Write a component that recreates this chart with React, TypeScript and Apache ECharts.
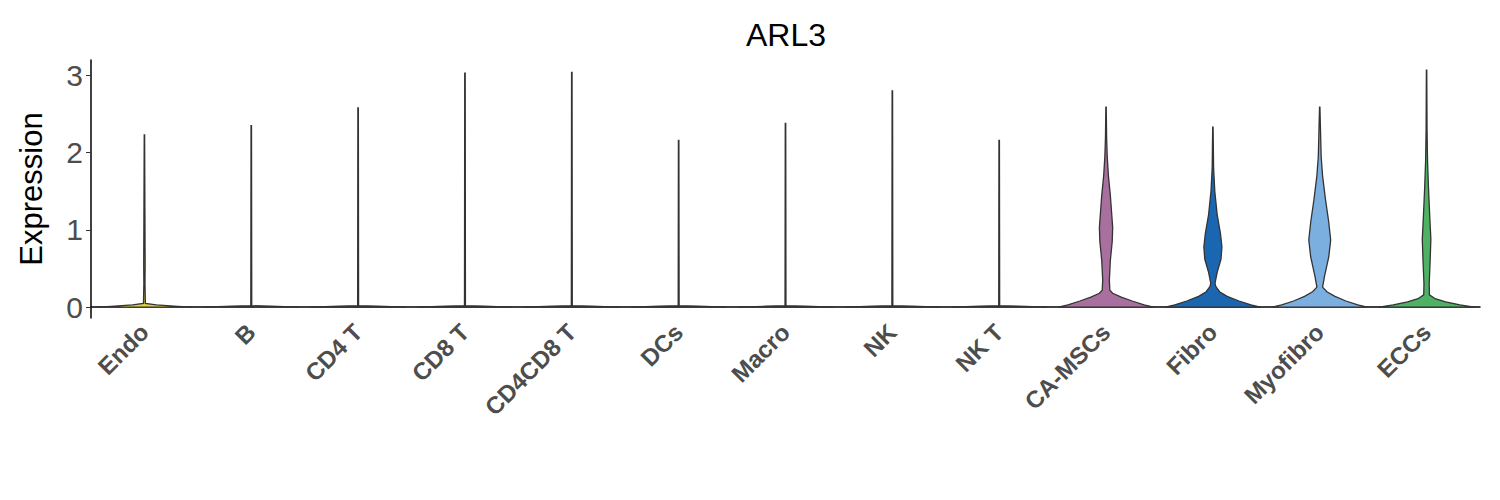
import React, { useEffect, useRef } from "react";
import * as echarts from "echarts";

const categories = ["Endo", "B", "CD4 T", "CD8 T", "CD4CD8 T", "DCs", "Macro", "NK", "NK T", "CA-MSCs", "Fibro", "Myofibro", "ECCs"];
const colors = ["#e3d23c", "#e8a05a", "#d9686a", "#c4577e", "#9a6fb0", "#6f8fca", "#5aa6b8", "#6dbb8a", "#a5c25a", "#a96f9f", "#1b66b1", "#7bafe0", "#4db263"];
const yTicks = [0, 1, 2, 3];

// violin profiles: [value, relative half width]
const thin = (top: number): number[][] => [[0, 1], [0.012, 0.4], [0.02, 0.01], [top, 0.005]];
const profiles: number[][][] = [
  [[0, 1], [0.01, 0.7], [0.03, 0.25], [0.05, 0.02], [0.3, 0.012], [0.55, 0.015], [1.3, 0.01], [2.23, 0.004]],
  thin(2.35), thin(2.58), thin(3.03), thin(3.04), thin(2.16), thin(2.38), thin(2.8), thin(2.16),
  [[0, 1], [0.03, 0.8], [0.08, 0.55], [0.13, 0.32], [0.18, 0.14], [0.22, 0.08], [0.35, 0.07], [0.6, 0.09], [0.85, 0.13], [1.03, 0.14], [1.2, 0.12], [1.45, 0.09], [1.7, 0.05], [1.95, 0.025], [2.2, 0.012], [2.59, 0.004]],
  [[0, 1], [0.03, 0.8], [0.08, 0.55], [0.14, 0.3], [0.2, 0.14], [0.27, 0.06], [0.31, 0.045], [0.45, 0.09], [0.62, 0.17], [0.78, 0.19], [0.95, 0.16], [1.2, 0.09], [1.5, 0.04], [1.8, 0.015], [2.33, 0.004]],
  [[0, 1], [0.03, 0.8], [0.08, 0.55], [0.14, 0.32], [0.2, 0.15], [0.26, 0.06], [0.4, 0.1], [0.65, 0.19], [0.87, 0.23], [1.1, 0.19], [1.4, 0.12], [1.7, 0.06], [1.95, 0.03], [2.59, 0.004]],
  [[0, 1], [0.03, 0.7], [0.07, 0.4], [0.11, 0.18], [0.16, 0.06], [0.3, 0.055], [0.6, 0.075], [0.88, 0.09], [1.2, 0.065], [1.55, 0.04], [1.9, 0.02], [2.3, 0.01], [3.07, 0.004]],
];

export default function App() {
  const ref = useRef<HTMLDivElement>(null);
  useEffect(() => {
    const chart = echarts.init(ref.current!, null, { renderer: "svg" });
    chart.setOption({
      animation: false,
      title: { text: "ARL3", left: 773, top: 6, textAlign: "center", textStyle: { fontSize: 32, fontWeight: "normal", color: "#000", fontFamily: "Liberation Sans" } },
      grid: { left: 74, right: 12, top: 52, bottom: 174 },
      xAxis: {
        type: "category", data: categories,
        axisLine: { lineStyle: { color: "#000", width: 1.5 } },
        axisTick: { alignWithLabel: true, length: 5, lineStyle: { color: "#333" } },
        axisLabel: { rotate: 45, interval: 0, fontSize: 24, fontWeight: "bold", color: "#4d4d4d", fontFamily: "Liberation Sans", margin: 10 },
      },
      yAxis: {
        type: "value", min: -0.14, max: 3.2,
        name: "Expression", nameLocation: "middle", nameGap: 44,
        nameTextStyle: { fontSize: 31, color: "#000", fontFamily: "Liberation Sans" },
        axisLine: { show: true, lineStyle: { color: "#000", width: 1.5 } },
        axisTick: { show: true, length: 5, customValues: yTicks, lineStyle: { color: "#333" } },
        axisLabel: { customValues: yTicks, fontSize: 30, color: "#4d4d4d", fontFamily: "Liberation Sans", margin: 8 },
        splitLine: { show: false },
      },
      series: [{
        type: "custom",
        data: categories.map((_, i) => [i]),
        renderItem: (params: any, api: any) => {
          const i = api.value(0);
          const prof = profiles[i];
          const half = api.size([1, 0])[0] * 0.445;
          const cx = api.coord([i, 0])[0];
          const right = prof.map(([v, w]) => [cx + w * half, api.coord([i, v])[1]]);
          const left = prof.slice().reverse().map(([v, w]) => [cx - w * half, api.coord([i, v])[1]]);
          return {
            type: "polygon",
            shape: { points: right.concat(left), smooth: 0 },
            style: { fill: colors[i], stroke: "#333", lineWidth: 1.3 },
          };
        },
      }],
    });
    return () => chart.dispose();
  }, []);
  return <div ref={ref} style={{ width: 1484, height: 484 }} />;
}
